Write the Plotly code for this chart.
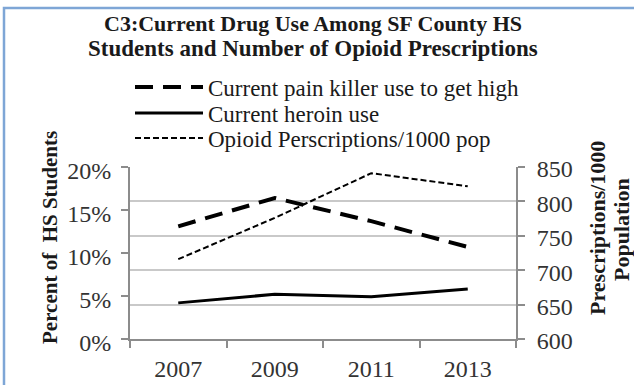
import plotly.graph_objects as go

# Survey years (category axis)
years = ["2007", "2009", "2011", "2013"]

# Percent of HS students (left axis)
painkiller_pct = [13.1, 16.4, 13.7, 10.7]
heroin_pct = [4.2, 5.2, 4.9, 5.8]

# Opioid prescriptions per 1000 population (right axis)
opioid_rx = [716, 776, 841, 822]

series_names = [
    "Current pain killer use to get high",
    "Current heroin use",
    "Opioid Perscriptions/1000 pop",
]

title_lines = [
    "C3:Current Drug Use Among SF County HS",
    "Students and Number of Opioid Prescriptions",
]

left_ticks = [0, 5, 10, 15, 20]
left_labels = [f"{v}%" for v in left_ticks]
right_ticks = [600, 650, 700, 750, 800, 850]

W, H = 634, 385
PL, PR, PT, PB = 130, 516, 167, 339  # plot area in pixels
PW, PH = PR - PL, PB - PT


def px_x(px):
    return (px - PL) / PW


def px_y(py):
    return (PB - py) / PH


SERIF = "Liberation Serif, Times New Roman, serif"
AXIS_GRAY = "#8c8c8c"
GRID_GRAY = "#c9c9c9"
TEXT = "#1a1a1a"

# one legend per row so the rows can be spaced freely
legend_rows = [87, 113, 138]
legend_ids = ["legend", "legend2", "legend3"]

fig = go.Figure()
fig.add_trace(go.Scatter(
    x=years, y=painkiller_pct, name=series_names[0], mode="lines",
    line=dict(color="black", width=4, dash="18px,10px"), yaxis="y",
    legend=legend_ids[0],
))
fig.add_trace(go.Scatter(
    x=years, y=heroin_pct, name=series_names[1], mode="lines",
    line=dict(color="black", width=3), yaxis="y",
    legend=legend_ids[1],
))
fig.add_trace(go.Scatter(
    x=years, y=opioid_rx, name=series_names[2], mode="lines",
    line=dict(color="black", width=2, dash="6px,3px"), yaxis="y2",
    legend=legend_ids[2],
))

tick_font = dict(family=SERIF, size=24, color="#333333")

legend_style = {}
for lid, row in zip(legend_ids, legend_rows):
    legend_style[lid] = dict(
        x=px_x(130), y=px_y(row), xanchor="left", yanchor="middle",
        font=dict(family=SERIF, size=23, color=TEXT),
        bgcolor="rgba(0,0,0,0)", itemwidth=68,
    )

axis_common = dict(
    ticks="outside", ticklen=7, tickwidth=2, tickcolor=AXIS_GRAY,
    showline=True, linecolor=AXIS_GRAY, linewidth=2,
    zeroline=False, tickfont=tick_font, automargin=False,
)


def text_note(text, x, y, size, angle=0):
    return dict(
        text=f"<b>{text}</b>", textangle=angle,
        x=px_x(x), y=px_y(y), xref="paper", yref="paper",
        xanchor="center", yanchor="middle", showarrow=False,
        font=dict(family=SERIF, size=size, color=TEXT),
    )


fig.update_layout(
    width=W, height=H,
    margin=dict(l=PL, r=W - PR, t=PT, b=H - PB, pad=0, autoexpand=False),
    paper_bgcolor="white", plot_bgcolor="white",
    showlegend=True,
    xaxis=dict(
        type="category", range=[-0.5, 3.5], tickson="boundaries",
        showgrid=False, ticklabelstandoff=7, **axis_common,
    ),
    yaxis=dict(
        range=[0, 20], tickvals=left_ticks, ticktext=left_labels,
        showgrid=False, ticklabelstandoff=5, ticklabelshift=4, **axis_common,
    ),
    yaxis2=dict(
        overlaying="y", side="right", range=[600, 850], tickvals=right_ticks,
        showgrid=True, gridcolor=GRID_GRAY, gridwidth=2,
        ticklabelstandoff=7, ticklabelshift=2, **axis_common,
    ),
    annotations=[
        text_note(title_lines[0], 313, 23, 22),
        text_note(title_lines[1], 313, 48, 23),
        text_note("Percent of  HS Students", 50, 238, 21, -90),
        text_note("Prescriptions/1000", 597, 228, 22, -90),
        text_note("Population", 621, 230, 22, -90),
    ],
    shapes=[
        # chart frame (left and top edges visible)
        dict(type="rect", xref="paper", yref="paper",
             x0=px_x(4), x1=px_x(660), y0=px_y(400), y1=px_y(8),
             line=dict(color="#7ea6d6", width=2.5), layer="below"),
    ],
    **legend_style,
)

fig.write_html("out.html")
